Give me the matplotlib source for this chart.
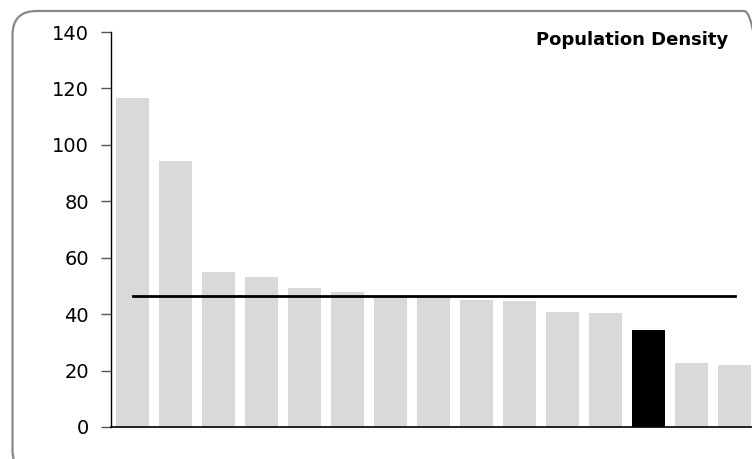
import matplotlib
matplotlib.use("Agg")
import matplotlib.pyplot as plt
from matplotlib.patches import FancyBboxPatch

categories = [f"C{i+1}" for i in range(15)]
values = [116.5, 94.3, 55.0, 53.3, 49.4, 47.9, 46.2, 46.0, 44.9, 44.6, 40.7, 40.5, 34.4, 22.8, 21.9]
highlight_index = 12
average_value = 46.5
title = "Population Density"
yticks = [0, 20, 40, 60, 80, 100, 120, 140]

W, H = 752, 459
fig = plt.figure(figsize=(W / 100, H / 100), dpi=100)

# rounded frame drawn on a full-figure overlay in pixel units (y measured from bottom)
bg = fig.add_axes([0, 0, 1, 1], zorder=-1)
bg.set_xlim(0, W)
bg.set_ylim(0, H)
bg.axis("off")
left, right, top, bottom = 12.5, 768, 11, 474
frame = FancyBboxPatch((left, H - bottom), right - left, bottom - top,
                       boxstyle="round,pad=0,rounding_size=24",
                       fill=False, edgecolor="#888888", linewidth=1.6,
                       clip_on=False)
bg.add_patch(frame)

ax = fig.add_axes([111 / W, (459 - 427) / H, 645 / W, (427 - 32) / H])
x = list(range(len(values)))
colors = ["#000000" if i == highlight_index else "#d9d9d9" for i in x]
ax.bar(x, values, width=0.79, color=colors)
ax.plot([x[0], x[-1]], [average_value, average_value], color="black", linewidth=2)

ax.set_xlim(-0.5, len(values) - 0.5)
ax.set_ylim(0, 140)
ax.set_yticks(yticks)
ax.set_xticks([])
ax.tick_params(axis="y", labelsize=14, length=7, width=1, color="#555555", pad=9)
for s in ["top", "right"]:
    ax.spines[s].set_visible(False)
ax.spines["left"].set_linewidth(1)
ax.spines["bottom"].set_linewidth(1.2)
ax.patch.set_alpha(0)

fig.text(728 / W, 1 - 45 / H, title, ha="right", va="baseline",
         fontsize=13, fontweight="bold")

fig.savefig("out.png", dpi=100)
